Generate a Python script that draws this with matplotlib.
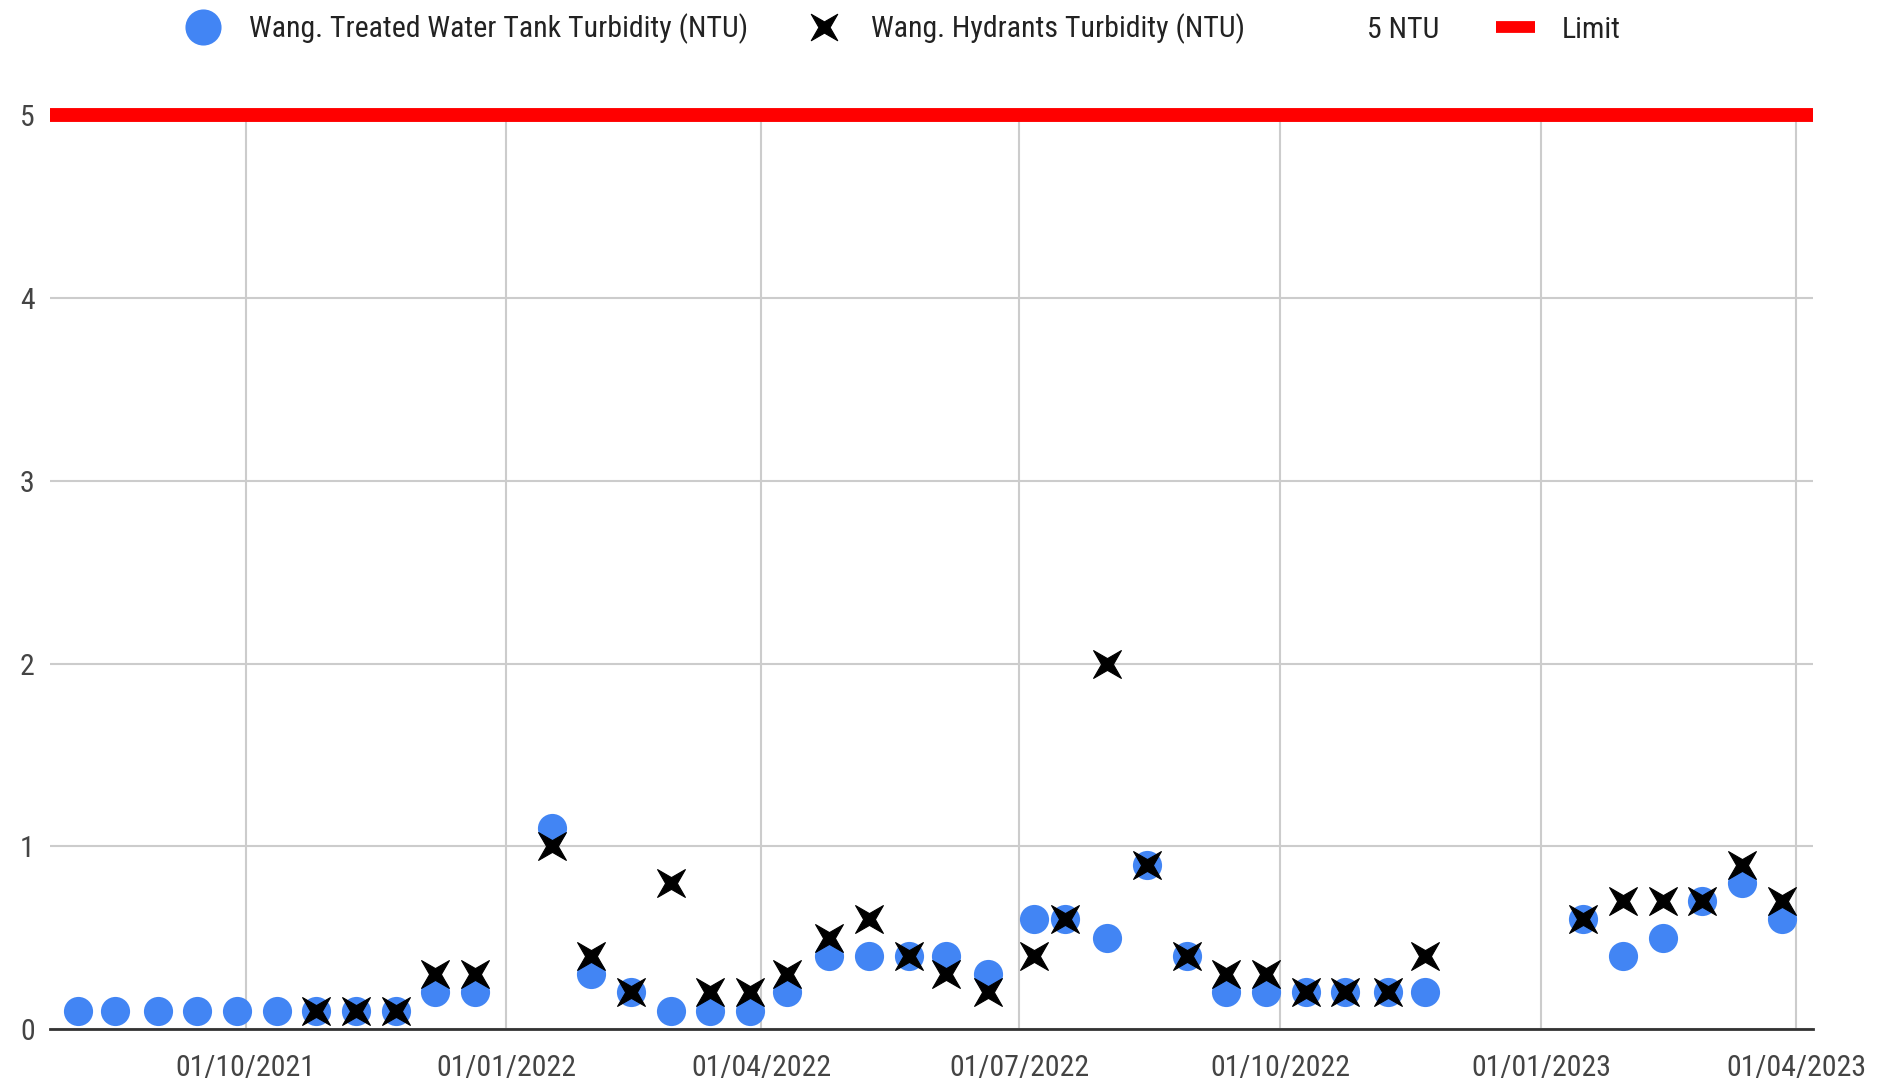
import matplotlib
matplotlib.use("Agg")
import matplotlib.pyplot as plt
from matplotlib import font_manager as fm
from matplotlib.lines import Line2D
from matplotlib.path import Path
import numpy as np
import pandas as pd

# ---- font choice: prefer a narrow sans (reference text is condensed) ----
names = {f.name for f in fm.fontManager.ttflist}
FONT, SIZE, STRETCH = "Roboto", 19, "normal"
for cand, sz in [("Liberation Sans Narrow", 21.5), ("Roboto Condensed", 21.5), ("Arial Narrow", 21.5)]:
    if cand in names:
        FONT, SIZE = cand, sz
        break
else:
    cond = [f for f in fm.fontManager.ttflist if f.name == "DejaVu Sans" and "Condensed" in f.fname
            and "Bold" not in f.fname and "Oblique" not in f.fname]
    if cond:
        FONT, SIZE, STRETCH = "DejaVu Sans", 19, "condensed"
plt.rcParams['font.family'] = [FONT, 'DejaVu Sans']
plt.rcParams['font.stretch'] = STRETCH

dates = ["2021-08-03", "2021-08-16", "2021-08-31", "2021-09-14", "2021-09-28",
         "2021-10-12", "2021-10-26", "2021-11-09", "2021-11-23", "2021-12-07",
         "2021-12-21", "2022-01-17", "2022-01-31", "2022-02-14", "2022-02-28",
         "2022-03-14", "2022-03-28", "2022-04-10", "2022-04-25", "2022-05-09",
         "2022-05-23", "2022-06-05", "2022-06-20", "2022-07-06", "2022-07-17",
         "2022-08-01", "2022-08-15", "2022-08-29", "2022-09-12", "2022-09-26",
         "2022-10-10", "2022-10-24", "2022-11-08", "2022-11-21", "2023-01-16",
         "2023-01-30", "2023-02-13", "2023-02-27", "2023-03-13", "2023-03-27"]
tank = [0.1, 0.1, 0.1, 0.1, 0.1, 0.1, 0.1, 0.1, 0.1, 0.2,
        0.2, 1.1, 0.3, 0.2, 0.1, 0.1, 0.1, 0.2, 0.4, 0.4,
        0.4, 0.4, 0.3, 0.6, 0.6, 0.5, 0.9, 0.4, 0.2, 0.2,
        0.2, 0.2, 0.2, 0.2, 0.6, 0.4, 0.5, 0.7, 0.8, 0.6]
hydrants = [np.nan, np.nan, np.nan, np.nan, np.nan, np.nan, 0.1, 0.1, 0.1, 0.3,
            0.3, 1.0, 0.4, 0.2, 0.8, 0.2, 0.2, 0.3, 0.5, 0.6,
            0.4, 0.3, 0.2, 0.4, 0.6, 2.0, 0.9, 0.4, 0.3, 0.3,
            0.2, 0.2, 0.2, 0.4, 0.6, 0.7, 0.7, 0.7, 0.9, 0.7]
limit_value = 5
x_start, x_end = "2021-07-24", "2023-04-07"
tick_dates = ["2021-10-01", "2022-01-01", "2022-04-01", "2022-07-01",
              "2022-10-01", "2023-01-01", "2023-04-01"]
tick_labels = ["01/10/2021", "01/01/2022", "01/04/2022", "01/07/2022",
               "01/10/2022", "01/01/2023", "01/04/2023"]
y_ticks = [0, 1, 2, 3, 4, 5]
legend_labels = ["Wang. Treated Water Tank Turbidity (NTU)",
                 "Wang. Hydrants Turbidity (NTU)", "5 NTU", "Limit"]

BLUE = "#4285F4"
RED = "#FF0000"

dts = pd.to_datetime(dates)

# X-shaped four-point star: tips on the diagonals, slim arms
ang = np.deg2rad(np.arange(45, 405, 45))
rad = np.where(np.arange(8) % 2 == 0, 1.0, 0.3)
verts = np.column_stack([rad * np.cos(ang), rad * np.sin(ang)])
star = Path(np.vstack([verts, verts[:1]]), closed=True)

fig = plt.figure(figsize=(18.83, 10.86), dpi=100)
ax = fig.add_axes([50 / 1883, 1 - 1029 / 1086, (1813 - 50) / 1883, (1029 - 115.5) / 1086])

ax.plot(dts, tank, linestyle="none", marker="o", markersize=21,
        markerfacecolor=BLUE, markeredgecolor=BLUE, markeredgewidth=0, zorder=3)
ax.plot(dts, hydrants, linestyle="none", marker=star, markersize=20,
        markerfacecolor="black", markeredgecolor="black", markeredgewidth=0.8, zorder=4)
ax.plot(pd.to_datetime([x_start, x_end]), [limit_value, limit_value], color=RED,
        linewidth=10, solid_capstyle="butt", zorder=5, clip_on=False)

ax.set_xlim(pd.Timestamp(x_start), pd.Timestamp(x_end))
ax.set_ylim(0, 5)
ax.set_yticks(y_ticks)
ax.set_yticklabels([str(v) for v in y_ticks])
ax.set_xticks(pd.to_datetime(tick_dates))
ax.set_xticklabels(tick_labels)

ax.grid(True, color="#cccccc", linewidth=1.5, zorder=0)
ax.set_axisbelow(True)
for s in ["top", "right", "left"]:
    ax.spines[s].set_visible(False)
ax.spines["bottom"].set_color("#333333")
ax.spines["bottom"].set_linewidth(2)
ax.spines["bottom"].set_zorder(2)
ax.tick_params(axis="both", length=0, labelsize=SIZE, labelcolor="#444444")
ax.tick_params(axis="y", pad=11)
ax.tick_params(axis="x", pad=18)

handles = [
    Line2D([], [], linestyle="none", marker="o", markersize=26,
           markerfacecolor=BLUE, markeredgewidth=0),
    Line2D([], [], linestyle="none", marker=star, markersize=19,
           markerfacecolor="black", markeredgecolor="black", markeredgewidth=0.8),
    Line2D([], [], linestyle="none"),
    Line2D([], [], color=RED, linewidth=8.5, solid_capstyle="butt"),
]
leg = fig.legend(handles, legend_labels, loc="center", bbox_to_anchor=(902 / 1883, 1 - 29 / 1086),
                 ncol=4, frameon=False, fontsize=SIZE, handlelength=1.3, handletextpad=0.9,
                 columnspacing=1.9, borderpad=0, borderaxespad=0)
for txt in leg.get_texts():
    txt.set_color("#222222")

fig.savefig("out.png", dpi=100)
